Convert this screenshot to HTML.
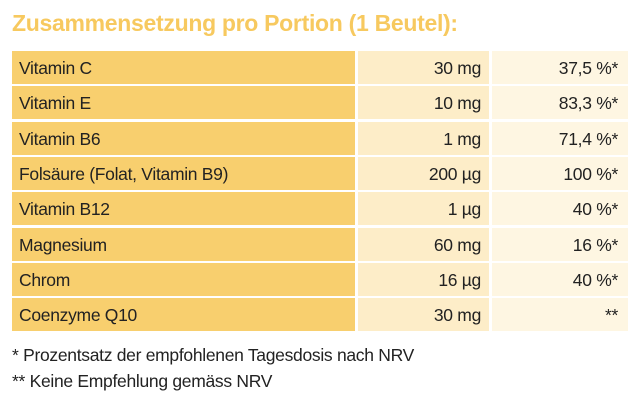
<!DOCTYPE html>
<html><head><meta charset="utf-8"><style>
body{margin:0;width:644px;height:400px;background:#fff;font-family:"Liberation Sans",sans-serif;position:relative;overflow:hidden}
h1{position:absolute;left:12px;top:10px;margin:0;font-size:23px;font-weight:bold;color:#f7c95f;letter-spacing:-0.3px}
.row{position:absolute;left:12px;height:33px;width:616px}
.c{position:absolute;top:0;height:33px;line-height:34px;font-size:17.5px;color:#222;box-sizing:border-box;letter-spacing:-0.3px}
.c1{left:0;width:343px;background:#f8cf6e;padding-left:7px}
.c2{left:346px;width:131px;background:#fdedc8;text-align:right;padding-right:8px}
.c3{left:480px;width:136px;background:#fef6e2;text-align:right;padding-right:10px}
.fn{position:absolute;left:12px;font-size:17.5px;color:#222;letter-spacing:-0.3px}
</style></head><body>
<h1>Zusammensetzung pro Portion (1 Beutel):</h1>
<div id="t"></div>
<div class="fn" style="top:345px">* Prozentsatz der empfohlenen Tagesdosis nach NRV</div>
<div class="fn" style="top:371px">** Keine Empfehlung gemäss NRV</div>
<script>
const nutrients=["Vitamin C","Vitamin E","Vitamin B6","Folsäure (Folat, Vitamin B9)","Vitamin B12","Magnesium","Chrom","Coenzyme Q10"];
const amounts=["30 mg","10 mg","1 mg","200 µg","1 µg","60 mg","16 µg","30 mg"];
const nrv=["37,5 %*","83,3 %*","71,4 %*","100 %*","40 %*","16 %*","40 %*","**"];
const t=document.getElementById('t');
nutrients.forEach((n,i)=>{
  const r=document.createElement('div');
  r.className='row';
  r.style.top=(51+i*35.3)+'px';
  
  
  [[n,'c1','nutrient-name'],[amounts[i],'c2','amount'],[nrv[i],'c3','nrv-percent']].forEach(([txt,cls,nm])=>{
    const c=document.createElement('div');
    c.className='c '+cls;
    c.textContent=txt;
    
    
    r.appendChild(c);
  });
  t.appendChild(r);
});
</script>
</body></html>
